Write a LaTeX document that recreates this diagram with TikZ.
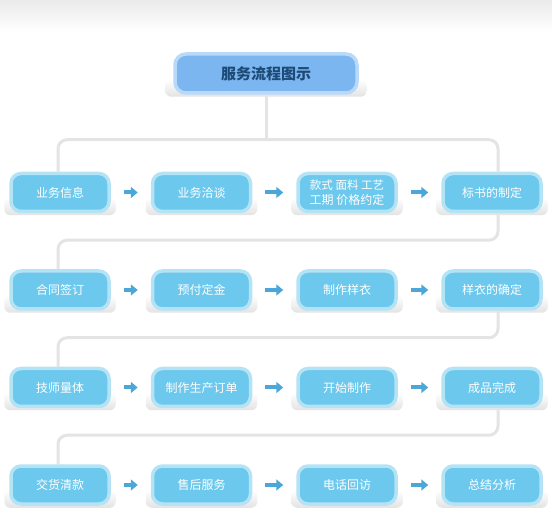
\documentclass[tikz,border=0pt]{standalone}
\usepackage{fontspec}
\newfontfamily\cjk{Noto Sans CJK SC}
\usetikzlibrary{calc,arrows.meta,backgrounds}
\definecolor{boxin}{HTML}{6CC8EC}
\definecolor{boxout}{HTML}{B4E3F5}
\definecolor{ttlin}{HTML}{7BB6F1}
\definecolor{ttlout}{HTML}{B9D9F8}
\definecolor{ttltext}{HTML}{1D4A76}
\definecolor{arrc}{HTML}{4BA7D9}
\definecolor{linec}{HTML}{E4E4E4}
\tikzset{
  stepbox/.style={draw=boxout, fill=boxin, line width=3.5pt, rounded corners=10pt,
    minimum width=98pt, minimum height=38pt, inner sep=0pt,
    font=\cjk\fontsize{12}{15}\selectfont, text=white, align=center},
  titlebox/.style={draw=ttlout, fill=ttlin, line width=3.5pt, rounded corners=11pt,
    minimum width=182pt, minimum height=39pt, inner sep=0pt,
    font=\cjk\bfseries\fontsize{15}{18}\selectfont, text=ttltext},
  conn/.style={draw=linec, line width=3pt, rounded corners=9pt},
  flowarr/.style={draw=arrc, line width=4pt, -{Triangle[length=7pt,width=11pt]},
    shorten <=13pt, shorten >=13pt},
  shadowfill/.style={top color=white, bottom color=black!11, rounded corners=6pt}
}
\begin{document}
\begin{tikzpicture}[x=1pt,y=-1pt]
\useasboundingbox (0,0) rectangle (552,521);
\shade[top color=black!8, bottom color=white] (0,0) rectangle (552,32);

\node[titlebox] (title) at (266,73.5) {服务流程图示};

% row 1
\node[stepbox] (b11) at (60,192.5) {业务信息};
\node[stepbox] (b12) at (201.5,192.5) {业务洽谈};
\node[stepbox] (b13) at (347,192.5) {\fontsize{11.5}{15}\selectfont 款式 面料 工艺\\工期 价格约定};
\node[stepbox] (b14) at (492,192.5) {标书的制定};
% row 2
\node[stepbox] (b21) at (60,290) {合同签订};
\node[stepbox] (b22) at (201.5,290) {预付定金};
\node[stepbox] (b23) at (347,290) {制作样衣};
\node[stepbox] (b24) at (492,290) {样衣的确定};
% row 3
\node[stepbox] (b31) at (60,387.5) {技师量体};
\node[stepbox] (b32) at (201.5,387.5) {制作生产订单};
\node[stepbox] (b33) at (347,387.5) {开始制作};
\node[stepbox] (b34) at (492,387.5) {成品完成};
% row 4
\node[stepbox] (b41) at (60,485) {交货清款};
\node[stepbox] (b42) at (201.5,485) {售后服务};
\node[stepbox] (b43) at (347,485) {电话回访};
\node[stepbox] (b44) at (492,485) {总结分析};

\begin{scope}[on background layer]
  % shadows
  \shade[shadowfill] ($(title.west)+(-8,6)$) rectangle ($(title.south east)+(8,2)$);
  \foreach \r in {1,2,3,4}{
    \foreach \c in {1,2,3,4}{
      \shade[shadowfill] ($(b\r\c.west)+(-5,5)$) rectangle ($(b\r\c.south east)+(5,2)$);
    }
  }
  % connectors
  \coordinate (j0) at ($(title.south)+(0,45)$);
  \draw[conn] (title.south) -- (j0);
  \draw[conn] ($(b11.north)+(-2,0)$) |- (j0) -| ($(b14.north)+(6,0)$);
  \draw[conn] ($(b14.south)+(6,0)$) -- ($(b14.south)+(6,27)$) -| ($(b21.north)+(-2,0)$);
  \draw[conn] ($(b24.south)+(6,0)$) -- ($(b24.south)+(6,27)$) -| ($(b31.north)+(-2,0)$);
  \draw[conn] ($(b34.south)+(6,0)$) -- ($(b34.south)+(6,27)$) -| ($(b41.north)+(-2,0)$);
\end{scope}

% arrows
\foreach \r in {1,2,3,4}{
  \draw[flowarr] (b\r1.east) -- (b\r2.west);
  \draw[flowarr] (b\r2.east) -- (b\r3.west);
  \draw[flowarr] (b\r3.east) -- (b\r4.west);
}
\end{tikzpicture}
\end{document}
